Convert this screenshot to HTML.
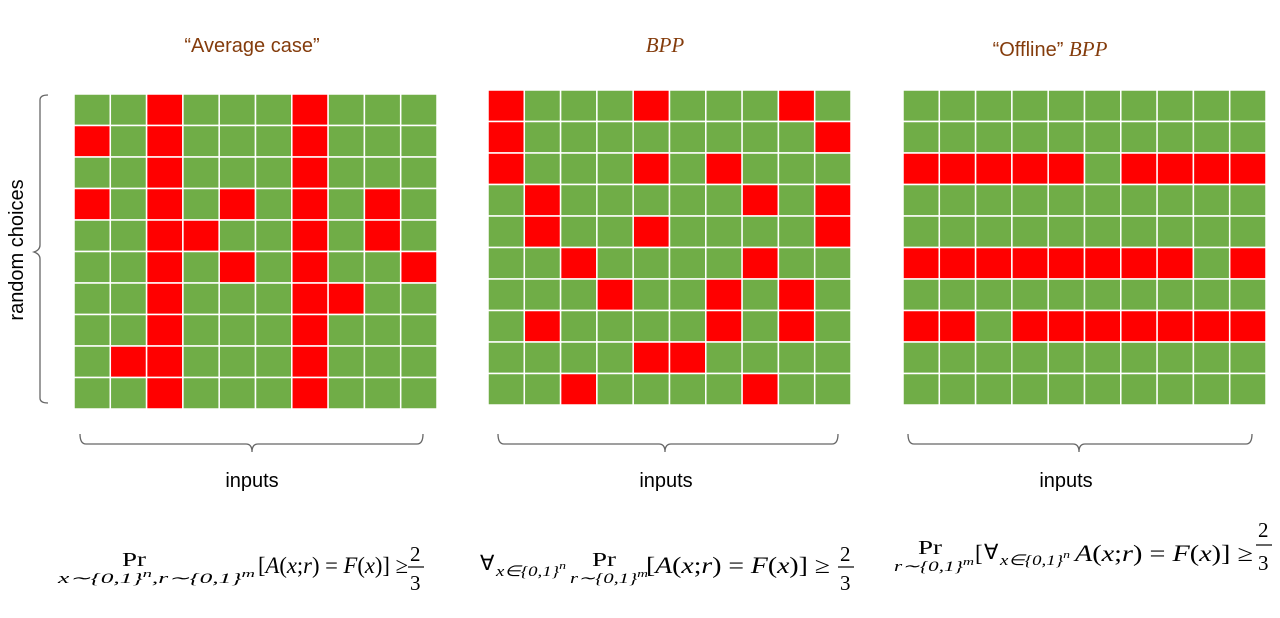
<!DOCTYPE html>
<html><head><meta charset="utf-8"><style>
body{margin:0;background:#fff;width:1280px;height:613px;overflow:hidden}
</style></head><body>
<svg width="1280" height="613" xmlns="http://www.w3.org/2000/svg" font-family="Liberation Sans, sans-serif">
<g id="grids"></g>
<text x="252" y="52" font-size="20" fill="#843c0c" text-anchor="middle">“Average case”</text>
<text x="665" y="52" font-size="21" fill="#843c0c" text-anchor="middle" font-family="Liberation Serif, serif" font-style="italic">BPP</text>
<text x="1050" y="56" font-size="20" fill="#843c0c" text-anchor="middle">“Offline” <tspan font-family="Liberation Serif, serif" font-style="italic" font-size="21">BPP</tspan></text>
<text transform="translate(23,250) rotate(-90)" font-size="20" text-anchor="middle">random choices</text>
<path d="M48,95 Q40,95 40,100 L40,245 Q40,250 34,252 Q40,254 40,259 L40,398 Q40,403 48,403" fill="none" stroke="#666" stroke-width="1.3"/>
<g fill="none" stroke="#666" stroke-width="1.3">
<path d="M80,434 Q80,444 86,444 L246,444 Q252,444 252,452 Q252,444 258,444 L417,444 Q423,444 423,434"/>
<path d="M498,434 Q498,444 504,444 L659,444 Q665,444 665,452 Q665,444 671,444 L832,444 Q838,444 838,434"/>
<path d="M908,434 Q908,444 914,444 L1073,444 Q1079,444 1079,452 Q1079,444 1085,444 L1246,444 Q1252,444 1252,434"/>
</g>
<text x="252" y="487" font-size="20" text-anchor="middle">inputs</text>
<text x="666" y="487" font-size="20" text-anchor="middle">inputs</text>
<text x="1066" y="487" font-size="20" text-anchor="middle">inputs</text>
<g font-family="Liberation Serif, serif">
<!-- formula 1 -->
<text x="122" y="566" font-size="20" textLength="24" lengthAdjust="spacingAndGlyphs">Pr</text>
<text x="58" y="583" font-size="15" font-style="italic" textLength="197" lengthAdjust="spacingAndGlyphs">x∼{0,1}<tspan dy="-6" font-size="11">n</tspan><tspan dy="6">,r∼{0,1}</tspan><tspan dy="-6" font-size="11">m</tspan></text>
<text x="258" y="573" font-size="23" textLength="150" lengthAdjust="spacingAndGlyphs">[<tspan font-style="italic">A</tspan>(<tspan font-style="italic">x</tspan>;<tspan font-style="italic">r</tspan>) = <tspan font-style="italic">F</tspan>(<tspan font-style="italic">x</tspan>)] ≥</text>
<text x="410" y="561" font-size="21">2</text><line x1="408" y1="567" x2="424" y2="567" stroke="#000" stroke-width="1.2"/><text x="410" y="590" font-size="21">3</text>
<!-- formula 2 -->
<text x="480" y="570" font-size="21">∀</text>
<text x="496" y="576" font-size="15" font-style="italic" textLength="70" lengthAdjust="spacingAndGlyphs">x∈{0,1}<tspan dy="-7" font-size="11">n</tspan></text>
<text x="592" y="566" font-size="20" textLength="24" lengthAdjust="spacingAndGlyphs">Pr</text>
<text x="570" y="583" font-size="15" font-style="italic" textLength="78" lengthAdjust="spacingAndGlyphs">r∼{0,1}<tspan dy="-6" font-size="11">m</tspan></text>
<text x="646" y="573" font-size="23" textLength="184" lengthAdjust="spacingAndGlyphs">[<tspan font-style="italic">A</tspan>(<tspan font-style="italic">x</tspan>;<tspan font-style="italic">r</tspan>) = <tspan font-style="italic">F</tspan>(<tspan font-style="italic">x</tspan>)] ≥</text>
<text x="840" y="561" font-size="21">2</text><line x1="838" y1="567" x2="854" y2="567" stroke="#000" stroke-width="1.2"/><text x="840" y="590" font-size="21">3</text>
<!-- formula 3 -->
<text x="918" y="554" font-size="20" textLength="24" lengthAdjust="spacingAndGlyphs">Pr</text>
<text x="894" y="571" font-size="15" font-style="italic" textLength="80" lengthAdjust="spacingAndGlyphs">r∼{0,1}<tspan dy="-6" font-size="11">m</tspan></text>
<text x="975" y="561" font-size="23">[</text>
<text x="984" y="559" font-size="21">∀</text>
<text x="1000" y="565" font-size="15" font-style="italic" textLength="70" lengthAdjust="spacingAndGlyphs">x∈{0,1}<tspan dy="-7" font-size="11">n</tspan></text>
<text x="1075" y="561" font-size="23" textLength="178" lengthAdjust="spacingAndGlyphs"><tspan font-style="italic">A</tspan>(<tspan font-style="italic">x</tspan>;<tspan font-style="italic">r</tspan>) = <tspan font-style="italic">F</tspan>(<tspan font-style="italic">x</tspan>)] ≥</text>
<text x="1258" y="537" font-size="21">2</text><line x1="1256" y1="545" x2="1272" y2="545" stroke="#000" stroke-width="1.2"/><text x="1258" y="570" font-size="21">3</text>
</g>
</svg>
<script>
var g=document.getElementById('grids');
function grid(x0,y0,red){
 var w=36.3,h=31.5,s='';
 for(var r=0;r<10;r++)for(var c=0;c<10;c++){
  var isR=red(r,c);
  s+='<rect x="'+(x0+c*w)+'" y="'+(y0+r*h)+'" width="'+w+'" height="'+h+'" fill="'+(isR?'#ff0000':'#70ad47')+'" stroke="#fff" stroke-width="1.5"/>';
 }
 g.innerHTML+=s;
}
var A={0:[2,6],1:[0,2,6],2:[2,6],3:[0,2,4,6,8],4:[2,3,6,8],5:[2,4,6,9],6:[2,6,7],7:[2,6],8:[1,2,6],9:[2,6]};
var B={0:[0,4,8],1:[0,9],2:[0,4,6],3:[1,7,9],4:[1,4,9],5:[2,7],6:[3,6,8],7:[1,6,8],8:[4,5],9:[2,7]};
grid(74,94,function(r,c){return A[r].indexOf(c)>=0});
grid(488,90,function(r,c){return B[r].indexOf(c)>=0});
grid(903,90,function(r,c){return (r==2&&c!=5)||(r==5&&c!=8)||(r==7&&c!=2)});
</script>
</body></html>
